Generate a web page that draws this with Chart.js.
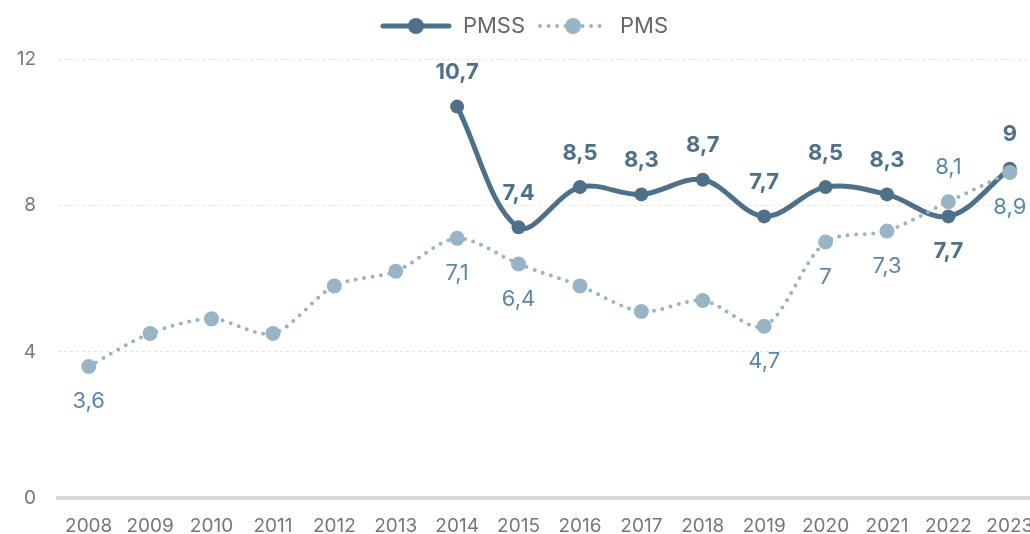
<!DOCTYPE html>
<html>
<head>
<meta charset="utf-8">
<script src="https://cdn.jsdelivr.net/npm/chart.js@4"></script>
<style>
  html, body { margin: 0; padding: 0; background: #fff; overflow: hidden; }
  canvas { display: block; }
</style>
</head>
<body>
<canvas id="chart" width="1048" height="534"></canvas>
<script>
const years = ["2008", "2009", "2010", "2011", "2012", "2013", "2014", "2015",
  "2016", "2017", "2018", "2019", "2020", "2021", "2022", "2023"];
const pmss = [null, null, null, null, null, null, 10.7, 7.4, 8.5, 8.3, 8.7, 7.7, 8.5, 8.3, 7.7, 9];
const pms = [3.6, 4.5, 4.9, 4.5, 5.8, 6.2, 7.1, 6.4, 5.8, 5.1, 5.4, 4.7, 7, 7.3, 8.1, 8.9];
// where each value label goes: "up", "down" or null (no label)
const pmssLabelPos = [null, null, null, null, null, null, "up", "up", "up", "up", "up", "up", "up", "up", "down", "up"];
const pmsLabelPos = ["down", null, null, null, null, null, "down", "down", null, null, null, "down", "down", "down", "up", "down"];
const yTicks = [0, 4, 8, 12];

const darkBlue = "#4e7189";
const lightBlue = "#98b4c5";

function legendIcon(color, dotted) {
  const c = document.createElement("canvas");
  c.width = 72;
  c.height = 18;
  const g = c.getContext("2d");
  g.strokeStyle = color;
  g.fillStyle = color;
  g.lineCap = "round";
  if (dotted) {
    g.lineWidth = 4;
    g.setLineDash([0, 8.5]);
  } else {
    g.lineWidth = 5;
  }
  g.beginPath();
  g.moveTo(3, 9);
  g.lineTo(69, 9);
  g.stroke();
  g.beginPath();
  g.arc(36, 9, 8, 0, Math.PI * 2);
  g.fill();
  return c;
}

// a bit more room under the legend
const legendGap = {
  id: "legendGap",
  beforeInit(chart) {
    const fit = chart.legend.fit;
    chart.legend.fit = function () {
      fit.bind(chart.legend)();
      this.height += 12;
    };
  }
};

const valueLabels = {
  id: "valueLabels",
  afterDatasetsDraw(chart) {
    const ctx = chart.ctx;
    ctx.save();
    ctx.textAlign = "center";
    ctx.textBaseline = "middle";
    chart.data.datasets.forEach((ds, i) => {
      const meta = chart.getDatasetMeta(i);
      meta.data.forEach((pt, j) => {
        const pos = ds.labelPos[j];
        const v = ds.data[j];
        if (!pos || v === null) return;
        ctx.font = ds.labelFont;
        ctx.fillStyle = ds.labelColor;
        const dy = pos === "up" ? -34 : 35;
        ctx.fillText(String(v).replace(".", ","), pt.x, pt.y + dy);
      });
    });
    ctx.restore();
  }
};

new Chart(document.getElementById("chart").getContext("2d"), {
  type: "line",
  data: {
    labels: years,
    datasets: [
      {
        label: "PMS",
        data: pms,
        labelPos: pmsLabelPos,
        labelColor: "#5b88a5",
        labelFont: "22px Inter",
        borderColor: lightBlue,
        backgroundColor: lightBlue,
        borderWidth: 4,
        borderDash: [0, 8.5],
        borderCapStyle: "round",
        pointRadius: 7.5,
        pointHoverRadius: 7.5,
        pointBorderWidth: 0,
        tension: 0.3,
      },
      {
        label: "PMSS",
        data: pmss,
        labelPos: pmssLabelPos,
        labelColor: darkBlue,
        labelFont: "bold 22px Inter",
        borderColor: darkBlue,
        backgroundColor: darkBlue,
        borderWidth: 5,
        pointRadius: 7,
        pointHoverRadius: 7,
        pointBorderWidth: 0,
        tension: 0.35,
      },
    ],
  },
  options: {
    responsive: false,
    animation: false,
    layout: { padding: { left: 0, right: 0, top: 3, bottom: -13 } },
    plugins: {
      tooltip: { enabled: false },
      legend: {
        position: "top",
        reverse: true,
        labels: {
          usePointStyle: true,
          pointStyleWidth: 72,
          padding: 12,
          color: "#666",
          font: { family: "Inter", size: 22 },
          generateLabels(chart) {
            return chart.data.datasets.map((ds, i) => ({
              text: ds.label,
              datasetIndex: i,
              fontColor: "#666",
              pointStyle: legendIcon(ds.borderColor, i === 0),
              lineWidth: 0,
              strokeStyle: "transparent",
              fillStyle: "transparent",
            }));
          },
        },
      },
    },
    scales: {
      x: {
        offset: true,
        grid: { display: false },
        border: { display: true, color: "#d9d9d9", width: 4 },
        ticks: {
          color: "#777",
          font: { family: "Inter", size: 19 },
          maxRotation: 0,
          autoSkip: false,
          padding: 9,
        },
      },
      y: {
        min: 0,
        max: 12,
        afterBuildTicks(axis) {
          axis.ticks = yTicks.map(v => ({ value: v }));
        },
        afterFit(axis) {
          axis.width = 58;
        },
        grid: {
          drawTicks: false,
          color: c => (c.tick && c.tick.value === 0 ? "transparent" : "#e6e6e6"),
          lineWidth: 1,
        },
        border: { display: false, dash: [3, 3] },
        ticks: {
          color: "#777",
          font: { family: "Inter", size: 19 },
          padding: 22,
        },
      },
    },
  },
  plugins: [legendGap, valueLabels],
});
</script>
</body>
</html>
